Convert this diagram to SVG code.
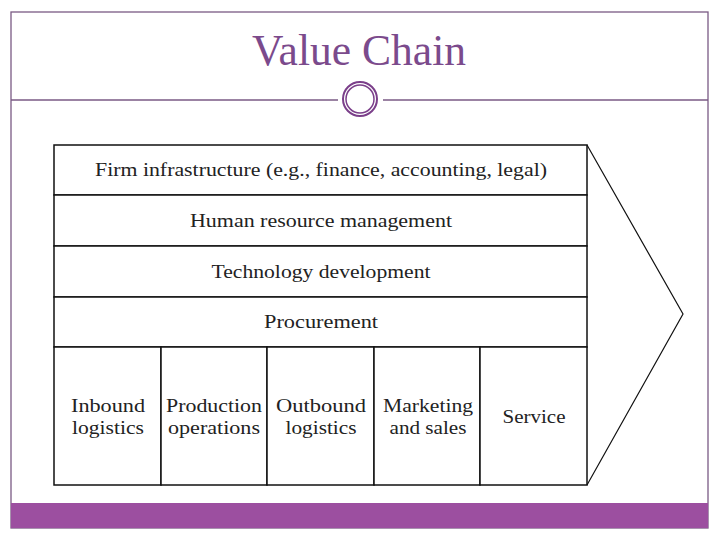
<svg xmlns="http://www.w3.org/2000/svg" width="720" height="540" viewBox="0 0 720 540">
<style>
.frame{fill:none;stroke:#7a5a84;stroke-width:1.3}
.box{fill:#fff;stroke:#111;stroke-width:1.5}
.t{font-family:"Liberation Serif","Times New Roman",serif;font-size:19px;fill:#222;text-anchor:middle}
.title{font-family:"Liberation Serif","Times New Roman",serif;font-size:44px;fill:#7b4a8c;text-anchor:middle}
</style>
<rect width="720" height="540" fill="#fff"/>
<g id="frame">
<rect class="frame" x="11" y="12" width="697" height="516"/>
<line class="frame" x1="11" y1="100" x2="338" y2="100"/>
<line class="frame" x1="383" y1="100" x2="708" y2="100"/>
<circle cx="360" cy="99" r="17" fill="none" stroke="#7b3f8a" stroke-width="2"/>
<circle cx="360" cy="99" r="14" fill="none" stroke="#7b3f8a" stroke-width="1.5"/>
<rect x="11" y="503" width="697" height="25" fill="#9c4fa0"/>
</g>
<text class="title" x="359" y="65" textLength="214" lengthAdjust="spacingAndGlyphs">Value Chain</text>
<g id="connectors">
<polyline points="587,145 683,314 587,485" fill="none" stroke="#111" stroke-width="1.2"/>
</g>
<g id="firm"><rect class="box" x="54" y="145" width="533" height="50"/><text class="t" x="321" y="176" textLength="452" lengthAdjust="spacingAndGlyphs">Firm infrastructure (e.g., finance, accounting, legal)</text></g>
<g id="hr"><rect class="box" x="54" y="195" width="533" height="51"/><text class="t" x="321" y="227" textLength="262" lengthAdjust="spacingAndGlyphs">Human resource management</text></g>
<g id="tech"><rect class="box" x="54" y="246" width="533" height="51"/><text class="t" x="321" y="278" textLength="219" lengthAdjust="spacingAndGlyphs">Technology development</text></g>
<g id="proc"><rect class="box" x="54" y="297" width="533" height="50"/><text class="t" x="321" y="328" textLength="114" lengthAdjust="spacingAndGlyphs">Procurement</text></g>
<g id="inbound"><rect class="box" x="54" y="347" width="107" height="138"/><text class="t" x="108" y="412" textLength="74" lengthAdjust="spacingAndGlyphs">Inbound</text><text class="t" x="108" y="434" textLength="72" lengthAdjust="spacingAndGlyphs">logistics</text></g>
<g id="production"><rect class="box" x="161" y="347" width="106" height="138"/><text class="t" x="214" y="412" textLength="96" lengthAdjust="spacingAndGlyphs">Production</text><text class="t" x="214" y="434" textLength="92" lengthAdjust="spacingAndGlyphs">operations</text></g>
<g id="outbound"><rect class="box" x="267" y="347" width="107" height="138"/><text class="t" x="321" y="412" textLength="90" lengthAdjust="spacingAndGlyphs">Outbound</text><text class="t" x="321" y="434" textLength="71" lengthAdjust="spacingAndGlyphs">logistics</text></g>
<g id="marketing"><rect class="box" x="374" y="347" width="106" height="138"/><text class="t" x="428" y="412" textLength="90" lengthAdjust="spacingAndGlyphs">Marketing</text><text class="t" x="428" y="434" textLength="77" lengthAdjust="spacingAndGlyphs">and sales</text></g>
<g id="service"><rect class="box" x="480" y="347" width="107" height="138"/><text class="t" x="534" y="423" textLength="63" lengthAdjust="spacingAndGlyphs">Service</text></g>
</svg>
